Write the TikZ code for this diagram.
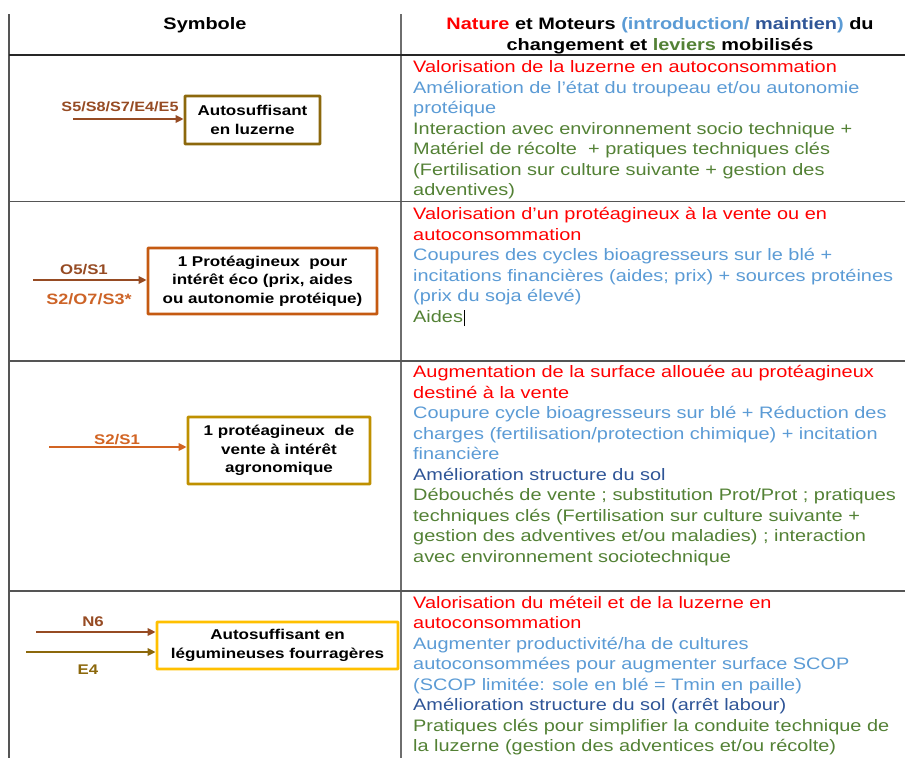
\documentclass[tikz,border=0pt]{standalone}
\usepackage{fontspec}
\setmainfont{Liberation Sans}[FakeStretch=1.2]
\usetikzlibrary{arrows.meta}

\definecolor{natred}{RGB}{255,0,0}
\definecolor{lblue}{RGB}{91,155,213}
\definecolor{dblue}{RGB}{47,85,151}
\definecolor{levgreen}{RGB}{83,129,53}
\definecolor{rulegray}{RGB}{85,85,85}
\definecolor{midgray}{RGB}{110,110,110}
\definecolor{sienna}{RGB}{150,75,35}
\definecolor{olive}{RGB}{140,104,12}
\definecolor{rust}{RGB}{197,90,17}
\definecolor{rustlight}{RGB}{205,100,40}
\definecolor{arrorange}{RGB}{210,100,35}
\definecolor{goldbox}{RGB}{191,144,0}
\definecolor{yellowbox}{RGB}{255,192,0}

\tikzset{
  rule/.style={draw=rulegray, line width=1.5pt},
  celltext/.style={anchor=base west, inner sep=0pt,
    font=\fontsize{16.6}{20.5}\selectfont},
  headtext/.style={anchor=base, inner sep=0pt,
    font=\fontsize{16.6}{20.5}\selectfont\bfseries},
  symbox/.style={draw, line width=2.8pt, fill=white, align=center,
    inner sep=2pt, rounded corners=0.6pt,
    font=\fontsize{14.2}{18.5}\selectfont\bfseries},
  code/.style={inner sep=0pt, font=\fontsize{14}{16}\selectfont\bfseries},
  feed/.style={line width=1.9pt, -{Triangle[length=8pt,width=7.5pt]}},
}

\newcommand\cellline[4]{\node[celltext, text=#3] (#1) at (413,#2) {#4};}

\begin{document}
\begin{tikzpicture}[x=1pt, y=-1pt]
\useasboundingbox (0,0) rectangle (905,758);

% table rules
\draw[rule] (9,14) -- (9,758);
\draw[draw=midgray, line width=2pt] (401,14) -- (401,758);
\draw[draw=black!85, line width=1.5pt] (9,55) -- (905,55);
\draw[rule] (9,201.5) -- (905,201.5);
\draw[rule] (9,361) -- (905,361);
\draw[rule] (9,591) -- (905,591);

% header
\node[headtext] (hsym) at (205,29.5) {Symbole};
\node[headtext] (hnat1) at (660,29.5) {\textcolor{natred}{Nature} et Moteurs
  \textcolor{lblue}{(introduction/ \textcolor{dblue}{maintien})} du};
\node[headtext] (hnat2) at (660,50) {changement et \textcolor{levgreen}{leviers} mobilisés};

% row 1 symbol
\node[symbox, draw=olive, minimum width=135pt, minimum height=48pt] (b1) at (252.5,120)
  {Autosuffisant\\en luzerne};
\coordinate (a1) at (73,119);
\draw[feed, sienna] (a1) -- (a1 -| b1.west);
\node[code, text=sienna, font=\fontsize{13.5}{16}\selectfont\bfseries] (l1) at (120,107) {S5/S8/S7/E4/E5};

% row 2 symbol
\node[symbox, draw=rust, minimum width=229pt, minimum height=66pt] (b2) at (262.5,281)
  {1 Protéagineux\ \ pour\\intérêt éco (prix, aides\\ou autonomie protéique)};
\coordinate (a2) at (33,280);
\draw[feed, sienna] (a2) -- (a2 -| b2.west);
\node[code, text=sienna] (l2a) at (84,270) {O5/S1};
\node[code, text=rustlight, font=\fontsize{15}{16}\selectfont\bfseries] (l2b) at (89,299.5) {S2/O7/S3*};

% row 3 symbol
\node[symbox, draw=goldbox, minimum width=182pt, minimum height=67pt] (b3) at (279,450.5)
  {1 protéagineux\ \ de\\vente à intérêt\\agronomique};
\coordinate (a3) at (49,447);
\draw[feed, arrorange] (a3) -- (a3 -| b3.west);
\node[code, text=arrorange] (l3) at (117,440) {S2/S1};

% row 4 symbol
\node[symbox, draw=yellowbox, minimum width=241pt, minimum height=47pt] (b4) at (277.5,645.5)
  {Autosuffisant en\\légumineuses fourragères};
\coordinate (a4) at (36,632);
\coordinate (a5) at (26,652);
\draw[feed, sienna] (a4) -- (a4 -| b4.west);
\draw[feed, olive] (a5) -- (a5 -| b4.west);
\node[code, text=sienna] (l4a) at (93,622) {N6};
\node[code, text=olive] (l4b) at (88,670) {E4};

% row 1 description
\cellline{r1a}{72.5}{natred}{Valorisation de la luzerne en autoconsommation}
\cellline{r1b}{93}{lblue}{Amélioration de l’état du troupeau et/ou autonomie}
\cellline{r1c}{113.5}{lblue}{protéique}
\cellline{r1d}{134}{levgreen}{Interaction avec environnement socio technique +}
\cellline{r1e}{154.5}{levgreen}{Matériel de récolte\ \ + pratiques techniques clés}
\cellline{r1f}{175}{levgreen}{(Fertilisation sur culture suivante + gestion des}
\cellline{r1g}{195.5}{levgreen}{adventives)}

% row 2 description
\cellline{r2a}{219.5}{natred}{Valorisation d’un protéagineux à la vente ou en}
\cellline{r2b}{240}{natred}{autoconsommation}
\cellline{r2c}{260.5}{lblue}{Coupures des cycles bioagresseurs sur le blé +}
\cellline{r2d}{281}{lblue}{incitations financières (aides; prix) + sources protéines}
\cellline{r2e}{301.5}{lblue}{(prix du soja élevé)}
\cellline{r2f}{322}{levgreen}{Aides}
\draw[black, line width=0.8pt] ([xshift=1pt,yshift=-4pt]r2f.base east) -- ([xshift=1pt,yshift=12pt]r2f.base east);

% row 3 description
\cellline{r3a}{377.7}{natred}{Augmentation de la surface allouée au protéagineux}
\cellline{r3b}{398.2}{natred}{destiné à la vente}
\cellline{r3c}{418.7}{lblue}{Coupure cycle bioagresseurs sur blé + Réduction des}
\cellline{r3d}{439.2}{lblue}{charges (fertilisation/protection chimique) + incitation}
\cellline{r3e}{459.7}{lblue}{financière}
\cellline{r3f}{480.2}{dblue}{Amélioration structure du sol}
\cellline{r3g}{500.7}{levgreen}{Débouchés de vente ; substitution Prot/Prot ; pratiques}
\cellline{r3h}{521.2}{levgreen}{techniques clés (Fertilisation sur culture suivante +}
\cellline{r3i}{541.7}{levgreen}{gestion des adventives et/ou maladies) ; interaction}
\cellline{r3j}{562.2}{levgreen}{avec environnement sociotechnique}

% row 4 description
\cellline{r4a}{608.3}{natred}{Valorisation du méteil et de la luzerne en}
\cellline{r4b}{628.8}{natred}{autoconsommation}
\cellline{r4c}{649.3}{lblue}{Augmenter productivité/ha de cultures}
\cellline{r4d}{669.8}{lblue}{autoconsommées pour augmenter surface SCOP}
\cellline{r4e}{690.3}{lblue}{(SCOP limitée: sole en blé = Tmin en paille)}
\cellline{r4f}{710.8}{dblue}{Amélioration structure du sol (arrêt labour)}
\cellline{r4g}{731.3}{levgreen}{Pratiques clés pour simplifier la conduite technique de}
\cellline{r4h}{751.8}{levgreen}{la luzerne (gestion des adventices et/ou récolte)}
\end{tikzpicture}
\end{document}
